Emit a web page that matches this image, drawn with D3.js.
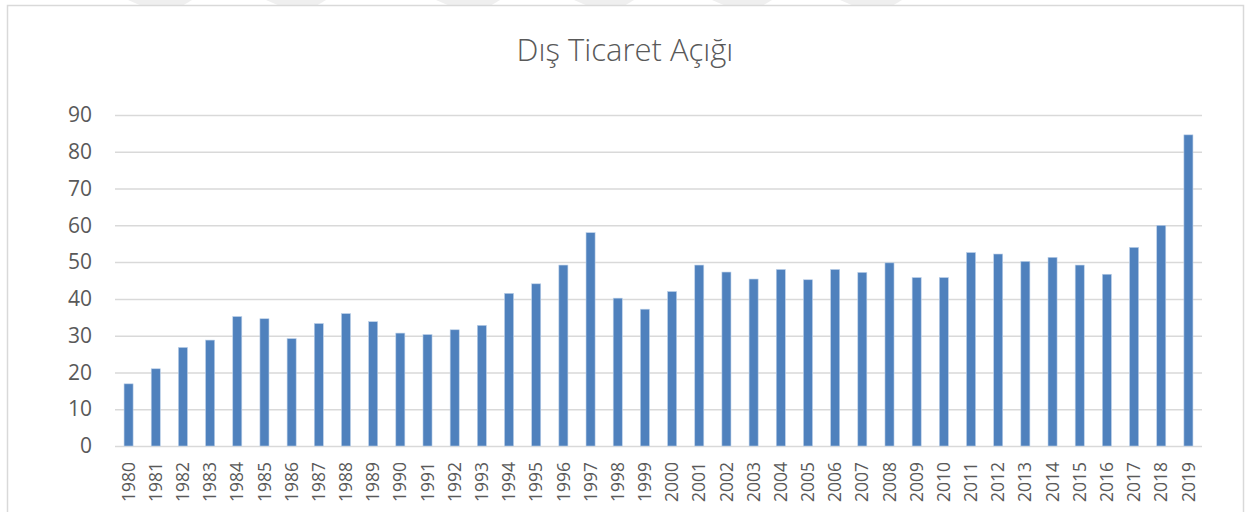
<!DOCTYPE html>
<html>
<head>
<meta charset="utf-8">
<script src="https://cdn.jsdelivr.net/npm/d3@7"></script>
<style>
  body { margin: 0; background: #fff; }
  svg { display: block; font-family: 'Open Sans', sans-serif; }
</style>
</head>
<body>
<svg id="chart"></svg>
<script>
// Dış ticaret açığı (yıllar ve değerler)
const years = ['1980','1981','1982','1983','1984','1985','1986','1987','1988','1989',
  '1990','1991','1992','1993','1994','1995','1996','1997','1998','1999',
  '2000','2001','2002','2003','2004','2005','2006','2007','2008','2009',
  '2010','2011','2012','2013','2014','2015','2016','2017','2018','2019'];
const deficit = [16.9, 21.0, 26.8, 28.8, 35.2, 34.6, 29.2, 33.3, 36.0, 33.8,
  30.7, 30.3, 31.6, 32.8, 41.5, 44.1, 49.2, 58.0, 40.2, 37.2,
  42.0, 49.2, 47.3, 45.4, 48.0, 45.2, 48.0, 47.2, 49.8, 45.8,
  45.8, 52.6, 52.2, 50.2, 51.3, 49.2, 46.7, 54.0, 60.0, 84.6];
const yTicks = [0, 10, 20, 30, 40, 50, 60, 70, 80, 90];
const title = 'Dış Ticaret Açığı';

const W = 1246, H = 512;
const margin = { top: 115, right: 44, bottom: 66, left: 115 };
const width = W - margin.left - margin.right;
const height = H - margin.top - margin.bottom;

const svg = d3.select('#chart').attr('width', W).attr('height', H);

// faint watermark shapes along top edge
const marks = [[128, 192], [266, 326], [436, 500], [574, 634], [712, 772], [840, 902]];
svg.selectAll('.wm')
  .data(marks)
  .enter()
  .append('path')
  .attr('class', 'wm')
  .attr('d', d => `M${d[0]},0 L${d[1]},0 L${d[1] - 10},6 L${d[0] + 14},6 Z`)
  .attr('fill', '#efefef');

// chart border
svg.append('rect')
  .attr('x', 7.5).attr('y', 5.5)
  .attr('width', 1236).attr('height', 520)
  .attr('fill', 'none')
  .attr('stroke', '#d9d9d9')
  .attr('stroke-width', 1.5);

// title
svg.append('text')
  .attr('x', 625)
  .attr('y', 61)
  .attr('text-anchor', 'middle')
  .style('font-size', '31px')
  .style('font-weight', 300)
  .style('fill', '#595959')
  .text(title);

const g = svg.append('g')
  .attr('transform', `translate(${margin.left},${margin.top})`);

const x = d3.scaleBand()
  .domain(years)
  .range([0, width])
  .paddingInner(0.667)
  .paddingOuter(0.333);

const y = d3.scaleLinear()
  .domain([0, 90])
  .range([height, 0]);

// gridlines
g.append('g')
  .call(d3.axisLeft(y).tickValues(yTicks).tickSize(-width).tickFormat(''))
  .call(a => a.select('.domain').remove())
  .selectAll('line')
  .attr('stroke', '#d9d9d9')
  .attr('stroke-width', 1.5);

// y labels
g.append('g')
  .call(d3.axisLeft(y).tickValues(yTicks).tickSize(0).tickPadding(23))
  .call(a => a.select('.domain').remove())
  .selectAll('text')
  .style('font-size', '21px')
  .style('font-family', "'Open Sans', sans-serif")
  .attr('fill', '#595959');

// bars
g.selectAll('.bar')
  .data(deficit)
  .enter()
  .append('rect')
  .attr('class', 'bar')
  .attr('x', (d, i) => x(years[i]))
  .attr('y', d => y(d))
  .attr('width', x.bandwidth())
  .attr('height', d => height - y(d))
  .attr('fill', '#4f81bd')
  .attr('stroke', '#bcd0e8')
  .attr('stroke-width', 0.6);

// x axis labels
g.append('g')
  .attr('transform', `translate(0,${height})`)
  .call(d3.axisBottom(x).tickSize(0).tickPadding(0))
  .call(a => a.select('.domain').remove())
  .selectAll('text')
  .attr('transform', 'rotate(-90)')
  .attr('x', -16)
  .attr('y', 0)
  .attr('dy', '0.35em')
  .style('text-anchor', 'end')
  .style('font-size', '17.5px')
  .style('font-family', "'Open Sans', sans-serif")
  .attr('fill', '#595959');
</script>
</body>
</html>
